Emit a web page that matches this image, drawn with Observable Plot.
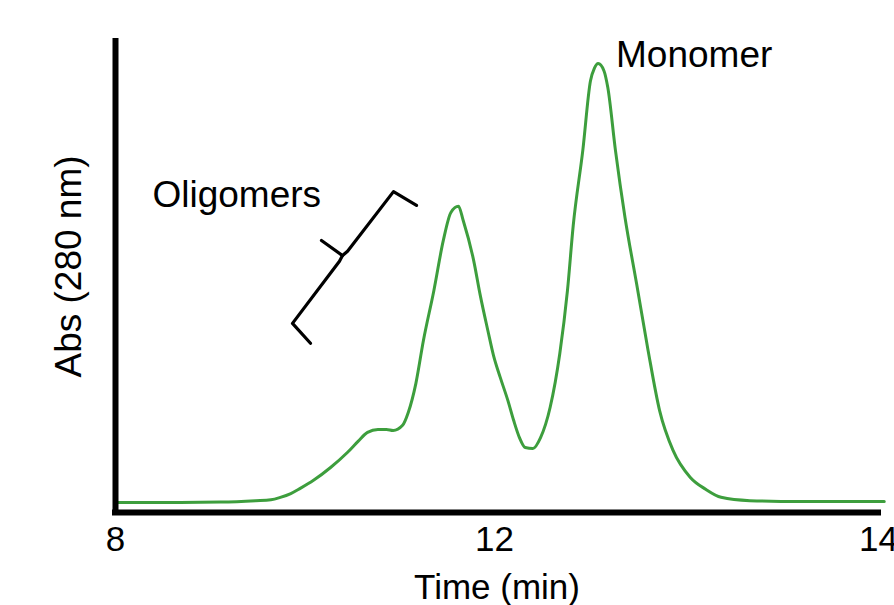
<!DOCTYPE html>
<html>
<head>
<meta charset="utf-8">
<script src="https://cdn.jsdelivr.net/npm/d3@7"></script>
<script src="https://cdn.jsdelivr.net/npm/@observablehq/plot@0.6"></script>
<style>
  html, body { margin: 0; padding: 0; background: #fff; }
  #chart { width: 894px; height: 605px; overflow: hidden; }
</style>
</head>
<body>
<div id="chart"></div>
<script>
// Elution time (min) and absorbance at 280 nm (relative units)
const times = [8.00, 8.58, 9.11, 9.48, 9.64, 9.74, 9.85, 9.95, 10.09, 10.27, 10.45, 10.56, 10.66,
  10.77, 10.86, 10.93, 11.03, 11.09, 11.17, 11.25, 11.36, 11.46, 11.54, 11.62, 11.67, 11.78,
  11.85, 11.93, 11.99, 12.03, 12.07, 12.10, 12.13, 12.16, 12.20, 12.24, 12.29, 12.34, 12.38,
  12.41, 12.46, 12.50, 12.52, 12.54, 12.57, 12.59, 12.63, 12.68, 12.74, 12.80, 12.86, 12.93,
  13.02, 13.10, 13.18, 13.33, 13.59, 14.03];
const absorbance = [0.021, 0.021, 0.022, 0.025, 0.027, 0.032, 0.040, 0.051, 0.068, 0.095, 0.127,
  0.150, 0.169, 0.175, 0.175, 0.173, 0.184, 0.211, 0.272, 0.363, 0.468, 0.574, 0.633, 0.646,
  0.616, 0.532, 0.458, 0.384, 0.331, 0.285, 0.236, 0.194, 0.158, 0.137, 0.135, 0.158, 0.222,
  0.335, 0.468, 0.605, 0.764, 0.911, 0.937, 0.947, 0.932, 0.897, 0.764, 0.622, 0.483, 0.342,
  0.215, 0.131, 0.074, 0.049, 0.032, 0.025, 0.023, 0.023];

const xTicks = [8, 12, 14];
const xLabel = "Time (min)";
const yLabel = "Abs (280 nm)";

// Annotations (data coordinates)
const labelNames = ["Oligomers", "Monomer"];
const labelTimes = [9.28, 13.04];
const labelAbs = [0.669, 0.964];

// Bracket marking the oligomer region: two strokes
const bracketGroup = [0, 0, 0, 0, 1, 1, 1, 1, 1];
const bracketTime = [10.058, 9.868, 10.364, 10.396, 10.174, 10.396, 10.449, 10.934, 11.177];
const bracketAbs = [0.357, 0.399, 0.530, 0.542, 0.574, 0.542, 0.551, 0.677, 0.648];

const trace = times.map((t, i) => ({t, v: absorbance[i]}));
const labels = labelNames.map((name, i) => ({name, t: labelTimes[i], v: labelAbs[i]}));
const bracket = bracketTime.map((t, i) => ({g: bracketGroup[i], t, v: bracketAbs[i]}));

const W = 894, H = 605;
const mL = 115, mR = 16, mT = 38, mB = 93;
const font = "'Liberation Sans', Arial, Helvetica, sans-serif";

const chart = Plot.plot({
  width: W,
  height: H,
  marginLeft: mL,
  marginRight: mR,
  marginTop: mT,
  marginBottom: mB,
  style: {fontFamily: font, fontSize: "36px", color: "#000", background: "#fff", overflow: "visible"},
  x: {type: "linear", domain: [8, 12, 14], range: [mL, mL + (W - mL - mR) * 0.4967, W - mR]},
  y: {domain: [0, 1]},
  marks: [
    Plot.axisX({ticks: xTicks, tickSize: 0, tickPadding: 14, fontSize: 35, label: xLabel,
      labelAnchor: "center", labelOffset: 86, labelArrow: "none", tickFormat: d => String(d)}),
    Plot.axisY({ticks: [], tickSize: 0, label: null}),
    Plot.text([yLabel], {frameAnchor: "left", text: d => d, rotate: -90, dx: -46, dy: -9,
      textAnchor: "middle", lineAnchor: "middle", fontSize: 37, fill: "#000"}),
    Plot.line(trace, {x: "t", y: "v", stroke: "#3d9e3d", strokeWidth: 3, curve: "monotone-x"}),
    Plot.line(bracket, {x: "t", y: "v", z: "g", stroke: "#000", strokeWidth: 3.2,
      strokeLinejoin: "round", strokeLinecap: "round"}),
    Plot.text(labels, {x: "t", y: "v", text: "name", fontSize: 37, fill: "#000"}),
    Plot.ruleX([8], {y1: 0, y2: 1, stroke: "#000", strokeWidth: 6}),
    Plot.ruleY([0], {x1: 8, x2: 14, stroke: "#000", strokeWidth: 6, strokeLinecap: "square"})
  ]
});
document.getElementById("chart").appendChild(chart);
</script>
</body>
</html>
